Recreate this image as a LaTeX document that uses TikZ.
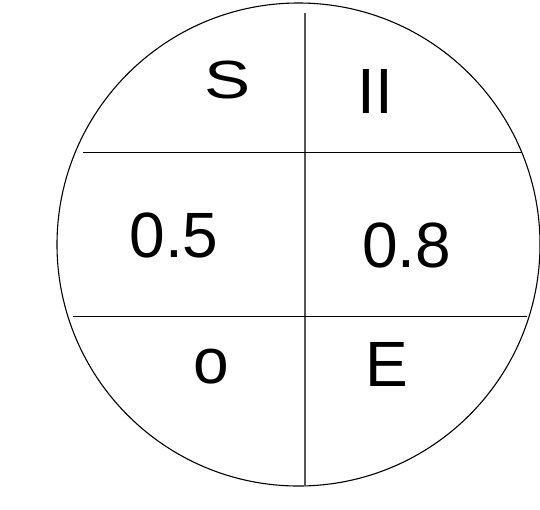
\documentclass[tikz,border=0pt]{standalone}
\usepackage{fontspec}
\setmainfont{Liberation Sans}
\usepackage{tikz}
\usetikzlibrary{positioning, calc}
\definecolor{rulegray}{RGB}{85,85,85}

\begin{document}
\begin{tikzpicture}[x=1pt, y=-1pt,
    every node/.style={font=\fontsize{64}{70}\selectfont, inner sep=0pt, anchor=base}]
            \useasboundingbox (0,0) rectangle (540,509);
            \node[circle, draw, line width=1.1pt, minimum size=483pt, anchor=center] (disc) at (298.5,244.5) {};
            % dividing lines
            \coordinate (vtop) at (305,13);
            \coordinate (vbot) at (305,486);
            \coordinate (h1l) at (83,152.3);
            \coordinate (h1r) at (521.7,152.3);
            \coordinate (h2l) at (72.7,316.7);
            \coordinate (h2r) at (526.7,316.7);
            \draw[rulegray, line width=1.3pt] (vtop) -- (vbot);
            \draw[line width=1pt] (h1l) -- (h1r);
            \draw[line width=1pt] (h2l) -- (h2r);
            % cell labels
            \node[transform shape, xscale=1.08, yscale=0.84] (s) at (228,98.2) {S};
            \node (ii) at (375,113.3) {II};
            \node (a) at (174,257.5) {0.5};
            \node (b) at (406.5,267.5) {0.8};
            \node (o) at (210.8,383) {o};
            \node (e) at (386.7,386.7) {E};
        \end{tikzpicture}
\end{document}
